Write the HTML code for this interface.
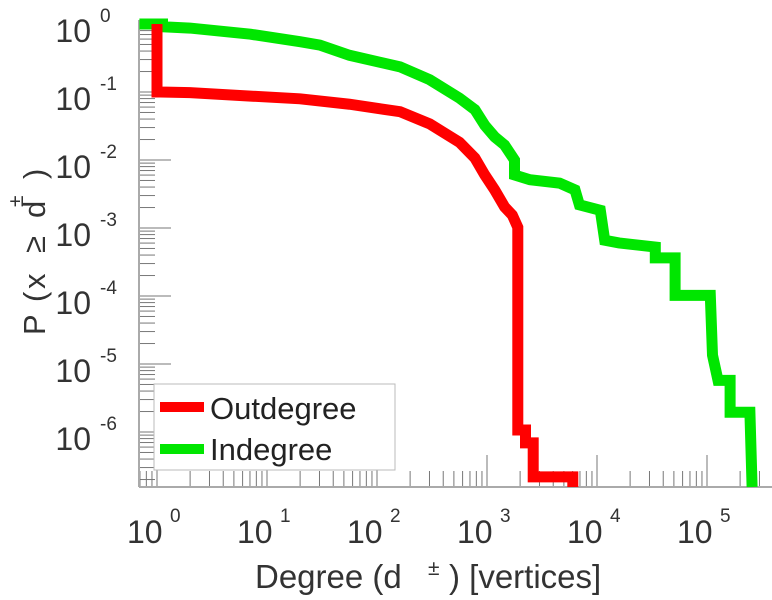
<!DOCTYPE html>
<html><head><meta charset="utf-8"><style>
body{margin:0;background:#fff}
svg{display:block;font-family:"Liberation Sans",sans-serif}
</style></head><body>
<svg id="chart" width="772" height="600" viewBox="0 0 772 600" xmlns="http://www.w3.org/2000/svg">
<g id="axes"></g>
<g id="series"></g>
<g id="labels"></g>
<g fill="#333">
<text x="255" y="588" font-size="33">Degree (d</text>
<text x="428" y="575" font-size="21">±</text>
<text x="449" y="588" font-size="33">) [vertices]</text>
</g>
<g transform="translate(45,335) rotate(-90)" fill="#333">
<text x="0" y="0" font-size="31">P</text>
<text x="33" y="0" font-size="31">(</text>
<text x="46" y="0" font-size="31">x</text>
<text x="82" y="0" font-size="31">≥</text>
<text x="117" y="0" font-size="31">d</text>
<text x="128" y="-22" font-size="21">±</text>
<text x="156" y="0" font-size="31">)</text>
</g>
<g>
<rect x="154" y="384" width="241" height="86" fill="#fff" stroke="#bbb" stroke-width="1"/>
<g>
<line x1="160" y1="407" x2="204" y2="407" stroke="#ff0000" stroke-width="10"/>
<text x="210" y="419" font-size="31" fill="#222">Outdegree</text></g>
<g>
<line x1="160" y1="449" x2="204" y2="449" stroke="#00e600" stroke-width="10"/>
<text x="210" y="460" font-size="31" fill="#222">Indegree</text></g>
</g>
</svg>
<script>
// data (log10 values)
const outLogDegree = [0, 0, 0.03, 0.3, 0.85, 1.3, 1.75, 2.21, 2.48, 2.75, 2.89, 2.98, 3.07, 3.16, 3.23, 3.28, 3.28, 3.35, 3.35, 3.42, 3.42, 3.78, 3.78];
const outLogP      = [0, -1, -1, -1.01, -1.06, -1.1, -1.18, -1.29, -1.47, -1.74, -1.97, -2.22, -2.44, -2.69, -2.81, -2.99, -5.97, -5.97, -6.16, -6.16, -6.66, -6.66, -6.9];
const inLogDegree  = [-0.16, 0.05, 0.05, 0.3, 0.85, 1.3, 1.48, 1.75, 2.21, 2.48, 2.75, 2.89, 2.98, 3.07, 3.16, 3.25, 3.25, 3.39, 3.66, 3.8, 3.84, 4.03, 4.07, 4.2, 4.53, 4.53, 4.71, 4.71, 5.03, 5.05, 5.1, 5.21, 5.21, 5.39, 5.41];
const inLogP       = [0, 0, -0.04, -0.06, -0.15, -0.26, -0.31, -0.46, -0.63, -0.82, -1.09, -1.26, -1.49, -1.66, -1.78, -2.0, -2.22, -2.29, -2.34, -2.44, -2.66, -2.74, -3.18, -3.22, -3.28, -3.44, -3.44, -3.99, -3.99, -4.87, -5.24, -5.24, -5.71, -5.71, -6.9];
const xTickExps = [0, 1, 2, 3, 4, 5];
const yTickExps = [0, -1, -2, -3, -4, -5, -6];

const X0 = 157, XD = 110, Y0 = 24, YD = 68, LEFT = 139, BOTTOM = 487, RIGHT = 772;
const xs = l => X0 + l * XD;
const ys = l => Math.min(BOTTOM, Y0 - l * YD);
const NS = 'http://www.w3.org/2000/svg';
function mk(tag, attrs, parent) { const e = document.createElementNS(NS, tag); for (const k in attrs) e.setAttribute(k, attrs[k]); parent.appendChild(e); return e; }

const axes = document.getElementById('axes');
const series = document.getElementById('series');
const labels = document.getElementById('labels');

for (let d = -1; d <= 5; d++) {
  for (let m = 1; m < 10; m++) {
    const x = xs(d + Math.log10(m));
    if (x < LEFT || x > RIGHT) continue;
    const t = mk('line', {x1: x, x2: x, y1: BOTTOM, y2: BOTTOM - (m === 1 ? 32 : 16), stroke: '#777', 'stroke-width': 1}, axes);
    
    
  }
}
for (let d = 0; d >= -7; d--) {
  for (let m = 1; m < 10; m++) {
    const y = Y0 - (d + Math.log10(m)) * YD;
    if (y < 20 || y > BOTTOM) continue;
    const t = mk('line', {x1: LEFT, x2: LEFT + (m === 1 ? 32 : 16), y1: y, y2: y, stroke: '#777', 'stroke-width': 1}, axes);
    
    
  }
}
const xa = mk('line', {x1: LEFT, x2: RIGHT, y1: BOTTOM, y2: BOTTOM, stroke: '#aaa', 'stroke-width': 2}, axes);


const ya = mk('line', {x1: LEFT, x2: LEFT, y1: 20, y2: BOTTOM, stroke: '#aaa', 'stroke-width': 2}, axes);



function drawSeries(lx, ly, color, name) {
  const pts = lx.map((v, i) => xs(v) + ',' + ys(ly[i])).join(' ');
  const p = mk('polyline', {points: pts, fill: 'none', stroke: color, 'stroke-width': 11, 'stroke-linejoin': 'miter'}, series);
  
  
}
drawSeries(inLogDegree, inLogP, '#00e600', 'indegree-line');
drawSeries(outLogDegree, outLogP, '#ff0000', 'outdegree-line');

xTickExps.forEach(e => {
  const t = mk('text', {x: xs(e) - 30, y: 543, 'font-size': 32, fill: '#333'}, labels);
  
  
  t.textContent = '10';
  const s = mk('text', {x: xs(e) + 13, y: 522, 'font-size': 19, fill: '#333'}, labels);
  
  
  s.textContent = String(e);
});
yTickExps.forEach(e => {
  const ty = Y0 - e * YD;
  const t = mk('text', {x: 91, y: ty + 18, 'font-size': 32, fill: '#333', 'text-anchor': 'end'}, labels);
  
  
  t.textContent = '10';
  const s = mk('text', {x: 100, y: ty - 2, 'font-size': 19, fill: '#333'}, labels);
  
  
  s.textContent = e === 0 ? '0' : '-' + Math.abs(e);
});
</script>
</body></html>
